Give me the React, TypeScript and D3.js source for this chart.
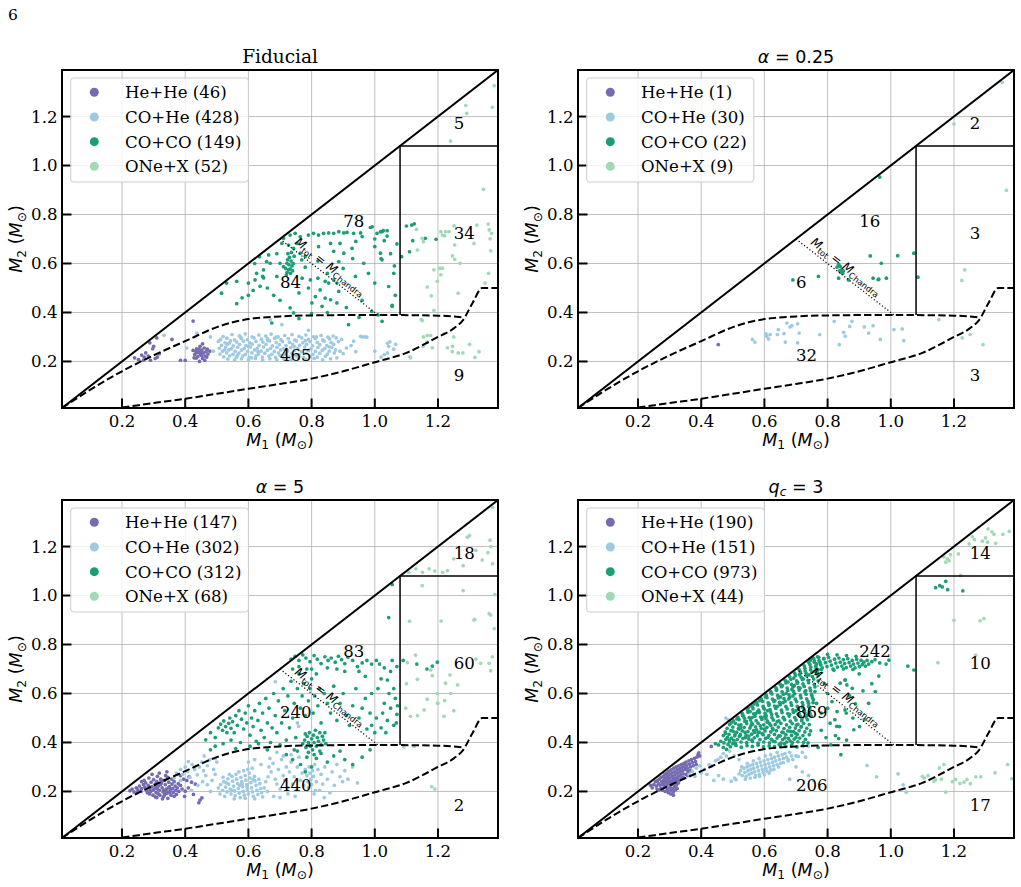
import { useEffect, useRef } from "react";
import * as d3 from "d3";

type Pt = [number, number];
type Part = { t: string; it?: boolean; sub?: boolean };

// masses in units of 1e-3 Msun, read as "M1 M2 M1 M2 ..."
function pts(s: string): Pt[] {
  const v = s.trim().split(/\s+/).map(Number);
  const out: Pt[] = [];
  for (let i = 0; i + 1 < v.length; i += 2) out.push([v[i] / 1000, v[i + 1] / 1000]);
  return out;
}

const groups = ["He+He", "CO+He", "CO+CO", "ONe+X"];
const groupColors = ["#756bb1", "#9ecae1", "#1b9e77", "#a1d9b4"];

const panelTitles: Part[][] = [
  [{ t: "Fiducial" }],
  [{ t: "α", it: true }, { t: " = 0.25" }],
  [{ t: "α", it: true }, { t: " = 5" }],
  [{ t: "q", it: true }, { t: "c", it: true, sub: true }, { t: " = 3" }],
];

const legendCounts = [
  [46, 428, 149, 52],
  [1, 30, 22, 9],
  [147, 302, 312, 68],
  [190, 151, 973, 44],
];

// top triangle, ONe box, right of M_tot line, left of it, between curves, below curves
const regionCounts = [
  [5, 34, 78, 84, 465, 9],
  [2, 3, 16, 6, 32, 3],
  [18, 60, 83, 240, 440, 2],
  [14, 10, 242, 869, 206, 17],
];

const massTicks = [0.2, 0.4, 0.6, 0.8, 1.0, 1.2];
const massDomain: Pt = [0.01, 1.39];

// region boundaries
const equalMass: Pt[] = [[0.01, 0.01], [1.39, 1.39]];
const oneBox: Pt[] = [[1.08, 0.39], [1.08, 1.08], [1.39, 1.08]];
const chandraLine: Pt[] = [[0.7, 0.7], [1.01, 0.39]];
const upperCurve: Pt[] = [
  [0.01, 0.01], [0.1, 0.085], [0.2, 0.16], [0.3, 0.225], [0.4, 0.283], [0.5, 0.34],
  [0.55, 0.36], [0.6, 0.373], [0.7, 0.384], [0.8, 0.388], [1.0, 0.39], [1.2, 0.387], [1.28, 0.38],
];
const lowerCurve: Pt[] = [
  [0.2, 0.012], [0.3, 0.03], [0.4, 0.048], [0.5, 0.068], [0.6, 0.089], [0.7, 0.108],
  [0.8, 0.13], [0.9, 0.16], [1.0, 0.197], [1.1, 0.235], [1.2, 0.3], [1.25, 0.335],
  [1.28, 0.37], [1.31, 0.44], [1.34, 0.5], [1.39, 0.5],
];

// ---- Fiducial ----
const fidHeHe = pts(`240 215 252 208 262 226 275 235 283 222 288 276 297 252 305 212 310 296 312 218 318 232 290 205 268 205
358 290 385 205 400 205 425 365 435 214 425 245 430 228 436 252 440 220 442 238 447 262 449 228 452 246 455 212 458 235
460 255 463 222 466 240 470 250 445 200 455 272 438 236 450 238 462 205 472 230 428 215 444 250 468 218 434 240 300 262
270 218 478 242 452 224`);
const fidCoHe = pts(`520 302 548 310 571 305 590 313 612 300 633 308 655 304 672 312 694 301 715 306 738 310 760 303 782 308 806 301 830 306 852 299 868 304
512 290 532 295 556 288 578 294 597 289 618 296 641 291 662 286 683 295 703 289 726 293 747 287 769 296 790 290 812 294 835 288 857 292 878 296
505 282 526 276 543 284 563 279 584 283 604 276 624 282 646 279 667 284 688 277 708 281 730 278 752 284 772 276 795 281 818 278 840 283 862 277 885 281
515 266 534 271 552 264 572 270 592 265 612 271 634 266 656 270 676 264 698 269 719 265 740 271 762 266 784 270 803 264 826 269 848 265 870 270
508 254 528 259 546 252 566 258 587 253 606 259 628 254 648 259 670 253 690 258 711 252 734 257 756 253 778 259 798 252 820 257 842 253 864 258
518 242 538 247 558 241 578 246 598 241 620 247 640 242 660 246 682 241 702 247 724 243 746 246 768 240 790 245 812 241 834 246 856 242 876 247
510 230 531 235 551 229 570 234 590 229 611 235 632 230 652 234 674 229 695 235 716 230 738 234 760 228 782 233 804 229 826 234 850 230 872 235
522 219 541 223 562 217 582 222 603 217 624 223 644 218 665 222 686 217 707 222 729 218 751 223 774 217 796 222 818 218 844 221
535 210 556 206 578 211 600 207 622 212 645 206 668 211 690 207 712 212 736 207 758 211 782 208 808 212 835 207 860 211
540 275 600 262 660 293 720 250 780 285 700 225 630 240 575 300 745 262 815 300 565 225 690 300 855 260 525 248 610 215
333 307 437 316 405 255 489 242 706 350 669 370 790 327 955 303 968 300 1040 274 1048 280 1030 228 1044 262 1066 270 1000 242
933 283 960 300 975 299 890 242 900 232 910 255 925 265 1040 235 1060 250 895 290 880 215 940 240 480 300 1020 218`);
const fidCoCo = pts(`711 703 732 716 748 723 764 709 790 716 806 723 822 716 838 723 854 725 870 723 886 730 902 725 912 727 933 723
955 725 992 750 1007 723 1023 730 1039 712 706 682 727 675 754 682 743 662
986 747 1018 730 1039 734 1000 669 1018 642 1023 615 1044 506 1023 364 1055 425 917 350 1027 734 1030 693 1020 620
1100 753 1117 757 1125 762 1120 693 1110 648 1085 628 1194 699 1160 703 1055 429
621 533 648 574 664 635 669 601 645 547 635 628 690 547 700 601 711 587 722 601 727 574 722 563 720 553 733 560
515 479 563 527 600 520 626 560 658 608 648 541 637 507 563 436 531 520
725 640 730 625 735 610 728 595 738 590 732 578 742 600 724 615 736 645 745 630 718 580 740 570
732 419 743 398 796 533 801 439 812 465 827 492 833 425 843 459 860 452 880 439 843 527 854 520 870 533 886 608
902 642 939 547 965 601 886 486 880 520 764 642 769 615 780 630 822 669 860 682 890 682 928 662 960 710
674 357 760 375 800 395 950 380 990 405 1010 390
580 460 600 470 615 490 660 500 680 470 700 450 760 480 790 500 820 540 850 560 900 580 930 620 980 560 1000 520
1060 560 1065 470 1050 640 960 450 910 420 850 400 770 540 690 640 620 600 780 585 820 610 870 650 940 690 1000 700
1070 680 1062 590`);
const fidONe = pts(`1378 1326 1372 1238 1288 1245 1291 1213 1240 1100 1344 903 1209 730 1224 730 1235 730 1214 716 1221 713
1132 739 1150 703 1154 689 1135 655 1251 754 1253 676 1246 631 1253 617 1270 601 1323 757 1314 682 1359 761 1362 737
1370 723 1365 701 1367 652 1214 581 1209 554 1198 527 1166 504 1179 468 1264 479 1187 409 1150 367 1154 300 1166 306
1177 306 1219 314 1182 256 1230 256 1246 262 1264 235 1279 235 1317 217 1111 219 1349 520 1113 215 1153 262 1147 371
1187 574 1205 580 1166 280 1245 240 1300 270 1330 240 1250 300 1360 560`);

// ---- alpha = 0.25 ----
const a25HeHe = pts(`454 269`);
const a25CoHe = pts(`562 290 570 279 607 303 613 292 618 310 605 313 641 310 644 330 666 279 662 314 671 357 681 341 687 346
705 354 710 316 705 276 775 310 821 364 837 269 851 319 856 303 870 343 877 364 916 341 930 316 944 346 967 290 1010 330
1036 333 1041 285`);
const a25CoCo = pts(`965 953 1073 642 1022 632 935 631 970 601 835 597 840 588 838 570 845 575 835 540 848 560 866 533 771 547
690 533 944 540 962 536 986 540 1086 544 842 565 830 585 850 570 960 534`);
const a25ONe = pts(`1353 1339 1200 1170 1366 899 1234 574 1225 531 1152 371 1226 296 1251 310 1292 269`);

// ---- alpha = 5 ----
const a5HeHe = pts(`225 203 232 210 238 198 245 215 250 207 255 222 248 195 262 212 268 228 260 200 272 218 278 205 275 235 283 225
288 212 280 195 292 238 295 220 290 200 298 185 300 248 305 230 302 210 308 195 312 262 310 240 315 222 318 205 320 185
322 250 325 235 327 215 330 198 332 180 335 245 337 228 340 210 342 192 345 172 338 265 348 238 350 220 352 202 355 185
358 230 360 212 362 196 365 240 368 222 370 205 372 188 375 215 378 232 380 200 385 225 390 210 318 275 295 270 285 255
270 245 305 178 328 170 345 258 262 240 342 280 358 250 312 210 332 205 322 228 298 205 287 190 350 195 365 180 340 200
315 190 327 245 307 220 347 215 335 188 310 175 355 210 395 250 405 245 412 260 420 238 426 188 443 154 453 174 447 165
400 201 385 265 410 215 432 230 398 180`);
const a5CoHe = pts(`505 215 512 228 518 205 522 240 528 218 532 198 535 252 538 230 542 210 545 190 548 262 550 242 553 222 556 202
558 182 561 270 563 250 566 232 568 212 571 193 574 175 576 258 579 240 581 220 584 200 587 185 590 265 592 246 595 228
597 208 600 190 603 275 605 255 608 236 610 215 613 198 616 180 619 262 621 243 624 225 627 205 630 188 633 250 636 232
639 212 642 195 598 290 612 295 585 285 570 280 540 270 520 258 510 190 525 180 555 170 590 172 620 170 645 178 650 215
655 240 660 200 662 260 548 205 572 225 596 218 615 248 580 232 530 235
365 255 372 275 385 290 392 270 400 300 408 282 415 258 422 310 430 290 438 268 445 300 452 320 458 285 465 265 470 305
478 330 485 245 490 290 495 270 470 228 455 240 440 225 420 205 480 200 500 320 495 335 410 322 460 345 385 245
665 300 672 280 678 315 685 250 690 230 695 290 700 210 705 330 710 265 715 245 720 300 725 190 730 280 735 320 740 230
745 260 750 205 755 300 760 340 765 245 770 275 775 225 680 180 700 175 725 215 748 180 710 345 690 360 668 335 735 350
780 290 785 265 788 240 792 300 795 275 798 250 800 228 803 285 806 262 810 310 815 240 820 290 825 205 830 270 835 230
842 300 850 250 858 195 865 280 872 225 880 310 890 260 898 240 905 285 915 250 930 300 945 235 808 190 840 175 790 215
812 205 759 466 755 480 685 648 600 320 620 330 640 310`);
const a5CoCo = pts(`735 740 748 752 760 735 772 758 782 745 795 730 808 755 818 740 830 722 842 750 852 735 862 745 875 728 885 752
895 738 905 722 915 748 930 735 945 710 960 725 975 735 990 720 1005 735 1015 720 1030 705 1050 690 1040 655 1020 660
970 670 950 690 905 690 880 700 850 705 800 700 760 710 740 700 1055 735 1070 710
1060 620 1045 600 1065 580 1030 560 1050 540 1070 515 1040 490 1060 470 1025 520 1005 500 990 470 975 455 1000 440
1020 460 985 520 960 540 970 580 990 600 1010 620 1035 440 1068 480 1072 550 1044 910 1055 1045
465 411 480 440 495 420 505 460 512 475 518 450 522 488 528 465 532 440 538 478 541 500 545 458 550 485 555 440 560 510
565 470 570 530 578 495 585 455 590 520 595 480 600 550 605 430 610 500 615 465 620 530 625 405 630 490 635 560 640 450
645 520 650 420 655 580 660 480 665 540 670 400 675 460 680 600 685 510 690 440 695 570 700 390 705 480 710 620 715 530
720 410 725 590 730 460 735 650 740 500 745 560 750 420 755 620 760 680 765 540 770 590 775 640 780 510 785 700 790 570
795 620 800 660 805 520 810 590 815 680 820 550 825 620 830 480 840 600 850 560 860 520 870 630 880 490 890 560 900 600
910 510 920 470 930 550 940 620 950 500 545 410 575 400 605 385 632 395 660 370
772 395 778 410 782 380 786 425 790 400 793 440 796 385 800 415 803 370 806 430 808 400 812 450 815 385 818 420 822 405
826 440 830 390 834 425 838 410 842 440 790 360 808 350 826 365 780 435 845 395
720 350 740 330 755 365 765 310 785 340 800 300 815 335 830 355 850 320 870 345 890 365 905 330 930 310 960 340 985 370
780 280 745 370 495 385 520 395 480 370 560 375 1133 720 1182 712 1198 728 1090 735 1165 700`);
const a5ONe = pts(`1373 1360 1365 1226 1367 1200 1373 1130 1320 1184 1300 1245 1280 1122 1230 1102 1215 1095 1172 1109 1151 1095
1130 1109 1108 1095 1293 1238 1340 1145 1250 1150 1190 1100 1358 1175 1380 1004 1367 920 1378 865 1316 903 1210 896
1110 895 1103 726 1135 658 1177 696 1182 673 1198 600 1221 571 1166 577 1156 533 1135 510 1113 507 1098 540 1238 676
1262 635 1335 723 1362 723 1367 693 1372 750 1092 382 1124 384 1180 220 1190 210 1362 926 1314 900 1129 757 1224 642
1198 561 1219 507 1280 1020 1150 1040 1200 560 1240 600 1320 740 1100 640 1250 530`);

// ---- q_c = 3 ----
const qcHeHe = pts(`250 228 255 240 258 222 262 245 265 232 268 250 270 225 273 258 275 240 278 230 280 262 282 248 285 270 287 255
289 240 291 275 293 262 295 250 297 282 299 268 301 255 303 240 305 288 307 275 309 262 311 250 313 295 315 280 317 268
319 255 321 300 323 288 325 275 327 262 329 305 331 292 333 280 335 268 337 310 339 298 341 285 343 272 345 315 347 302
349 290 352 320 354 308 356 295 358 282 361 325 363 312 366 300 369 330 372 318 375 305 378 335 382 322 386 340 390 350
384 310 272 212 278 205 283 218 286 200 290 225 293 210 296 195 298 232 301 218 304 205 306 228 309 212 312 198 314 235
316 220 318 206 320 240 322 226 324 212 312 185 304 190 300 242 290 238 280 238 294 202 308 240 326 248 328 235 316 245
284 228 240 225 245 215 260 210 266 205 392 358 395 345 432 384 336 255 343 258 352 270 357 265 365 285`);
const qcCoHe = pts(`520 272 525 285 530 265 535 295 538 278 542 262 545 300 548 285 551 270 554 305 557 290 560 275 563 310 566 295
569 280 572 265 575 315 578 300 581 285 584 270 587 320 590 305 593 290 596 278 599 325 602 310 605 295 608 283 611 330
614 315 617 300 620 288 623 335 626 320 629 305 632 340 636 325 640 310 644 345 648 330 652 315 656 350 660 335 665 355
670 340 675 325 680 360 686 345 540 250 555 255 570 258 585 262 600 268 615 275 630 290 645 300 660 318 528 300 546 315
565 325 583 335 603 345 620 350 640 360 690 330 700 345
362 269 372 282 385 295 395 305 410 290 425 310 432 303 445 325 453 330 462 340 470 355 480 345 490 365 495 242 505 255
510 248 470 250 455 265 440 245 418 270 485 493 478 500 707 343 720 360 739 384 675 330 700 300 720 280 740 265 755 245
680 250 925 306 955 260 1023 272 1039 227 1049 197 400 275 380 262 520 330 505 345 730 340`);
const qcCoCo = pts(`492 383 510 388 527 381 545 387 562 384 580 389 597 382 615 386 632 383 650 389 668 384 686 388 703 382 722 387
472 398 490 403 508 397 526 402 544 399 562 404 580 397 598 402 616 398 634 403 652 397 670 402 688 399 706 403 724 401 738 398
478 413 496 418 514 412 532 417 550 414 568 419 586 412 604 417 622 413 640 418 658 412 676 417 694 414 712 418 730 413
470 428 488 433 506 427 524 432 542 429 560 434 578 427 596 432 614 428 632 433 650 427 668 432 686 429 704 433 722 428 742 432
476 443 494 448 512 442 530 447 548 444 566 449 584 442 602 447 620 443 638 448 656 442 674 447 692 444 710 448 728 443 746 447
482 458 500 463 518 457 536 462 554 459 572 464 590 457 608 462 626 458 644 463 662 457 680 462 698 459 716 463 734 458
490 473 508 478 526 472 544 477 562 474 580 479 598 472 616 477 634 473 652 478 670 472 688 477 706 474 724 478 742 473
502 488 520 493 538 487 556 492 574 489 592 494 610 487 628 492 646 488 664 493 682 487 700 492 718 489 736 493
516 503 534 508 552 502 570 507 588 504 606 509 624 502 642 507 660 503 678 508 696 502 714 507 732 504 748 508
530 518 548 523 566 517 584 522 602 519 620 524 638 517 656 522 674 518 692 523 710 517 728 522 744 519
546 533 564 538 582 532 600 537 618 534 636 539 654 532 672 537 690 533 708 538 726 532 744 537
560 548 578 553 596 547 614 552 632 549 650 554 668 547 686 552 704 548 722 553 740 547
576 563 594 568 612 562 630 567 648 564 666 569 684 562 702 567 720 563 738 568 754 563
590 578 608 583 626 577 644 582 662 579 680 584 698 577 716 582 734 578 752 583
606 593 624 598 642 592 660 597 678 594 696 599 714 592 732 597 750 593
620 608 638 613 656 607 674 612 692 609 710 614 728 607 746 612 760 608
636 623 654 628 672 622 690 627 708 624 726 629 744 622 760 627
650 638 668 643 686 637 704 642 722 639 740 644 758 637
666 653 684 658 702 652 720 657 738 654 756 659 770 652
680 668 698 673 716 667 734 672 752 669 770 673
696 683 714 688 732 682 750 687 768 684
710 698 728 703 746 697 764 702 780 698
726 713 744 718 762 712 778 717
740 728 758 733 776 727
756 743 772 748 788 742
500 395 540 420 580 440 620 470 660 500 700 530 740 560 560 410 600 455 640 485 680 515 720 545 610 530 650 560 690 590
700 420 660 440 520 455 560 480 600 505
485 392 503 409 521 425 539 441 557 468 575 452 593 436 611 421 629 405 647 392 665 419 683 445 701 471 719 497 737 512
717 465 699 437 681 407 663 395 645 427 627 452 609 483 591 501 573 518 555 526 537 499 519 471 501 446 483 421 477 437
495 481 513 496 531 510 549 541 567 557 585 571 603 587 621 602 639 618 657 632 675 647 693 663 711 677 729 692 747 707
765 721 759 690 741 676 723 660 705 646 687 617 669 601 651 586 633 571 615 557 597 541 579 527 561 502 543 486 525 460
507 433 489 410 707 515 725 528 743 544 755 575 749 598 731 612 713 622 695 632 677 578 659 563 641 548 623 514 605 497
587 468 569 442 551 426
752 745 758 728 763 712 768 750 773 735 778 718 783 705 788 742 793 726 798 710 803 748 808 732 812 716 817 700 822 740
826 724 831 708 836 745 840 728 845 712 850 738 854 722 859 706 864 742 868 726 873 712 878 735 882 720 887 705 892 740
896 724 901 710 906 735 910 718 915 728 920 712 925 735 930 720 800 760 830 758 860 755 890 752 770 698 820 695 850 700
880 698 745 735 940 730 950 738 965 725 994 736 1054 712 1073 696 985 720
856 655 861 635 962 671 912 611 951 608 878 621 840 642 814 567 830 526 859 520 888 558 901 465 883 452 838 465 825 428
808 479 835 416 916 493 842 350 823 493 855 533 829 466 855 655 870 590 800 600 790 640 780 520 795 420 860 410 880 500
930 560 780 450 770 380 810 390 1142 1032 1163 1035 1174 1058 1180 1024 1228 1019 1155 1040 900 680 800 540 765 560
940 640 455 390 462 405 445 395 470 380 480 372`);
const qcONe = pts(`1308 1272 1375 1262 1327 1250 1306 1218 1332 1213 1258 1240 1248 1211 1265 1228 1189 1167 1179 1150 1174 1136
1168 1158 1221 1082 1200 899 1283 897 1295 906 1269 757 1149 726 1100 262 1106 255 1137 242 1142 248 1154 296 1168 310
1174 197 1205 249 1219 233 1232 238 1241 249 1269 260 1285 260 1330 276 1370 310 1383 252 1185 1142 1300 1235 1355 1250
1118 265 1195 240 1252 232 1160 250 1320 1260 1214 1170 1290 1222`);

const panelPoints: Pt[][][] = [
  [fidHeHe, fidCoHe, fidCoCo, fidONe],
  [a25HeHe, a25CoHe, a25CoCo, a25ONe],
  [a5HeHe, a5CoHe, a5CoCo, a5ONe],
  [qcHeHe, qcCoHe, qcCoCo, qcONe],
];

const W = 1021;
const H = 887;
const PW = 436;
const PH = 338;
const panelOrigins = [
  { left: 62, top: 70 },
  { left: 578, top: 70 },
  { left: 62, top: 500 },
  { left: 578, top: 500 },
];
// left edge / baseline of the count labels, in data units
const countSpots: Pt[] = [[1.25, 1.15], [1.25, 0.7], [0.9, 0.75], [0.7, 0.5], [0.7, 0.2], [1.25, 0.12]];

const SERIF = "'DejaVu Serif', serif";
const SANS = "'DejaVu Sans', sans-serif";
const FS = 16.6;

function richText(
  text: d3.Selection<SVGTextElement, unknown, null, undefined>,
  parts: Part[],
  size: number
) {
  let low = false;
  const shift = size * 0.22;
  parts.forEach((p) => {
    const ts = text.append("tspan").text(p.t);
    if (p.it) ts.attr("font-style", "italic");
    if (p.sub) {
      ts.attr("font-size", size * 0.7);
      if (!low) {
        ts.attr("dy", shift);
        low = true;
      }
    } else if (low) {
      ts.attr("dy", -shift);
      low = false;
    }
  });
}

function drawPanel(
  svg: d3.Selection<SVGSVGElement, unknown, null, undefined>,
  k: number
) {
  const { left, top } = panelOrigins[k];
  const g = svg.append("g").attr("transform", `translate(${left},${top})`);
  const x = d3.scaleLinear().domain(massDomain).range([0, PW]);
  const y = d3.scaleLinear().domain(massDomain).range([PH, 0]);

  const clipId = `panel-clip-${k}`;
  g.append("clipPath").attr("id", clipId).append("rect").attr("width", PW).attr("height", PH);

  // grid
  const grid = g.append("g").attr("stroke", "#b0b0b0").attr("stroke-width", 0.8);
  grid.selectAll("line.gx").data(massTicks).join("line").attr("class", "gx")
    .attr("x1", (d) => x(d)).attr("x2", (d) => x(d)).attr("y1", 0).attr("y2", PH);
  grid.selectAll("line.gy").data(massTicks).join("line").attr("class", "gy")
    .attr("y1", (d) => y(d)).attr("y2", (d) => y(d)).attr("x1", 0).attr("x2", PW);

  // binaries
  const dots = g.append("g").attr("clip-path", `url(#${clipId})`);
  panelPoints[k].forEach((set, gi) => {
    dots.append("g").attr("fill", groupColors[gi])
      .selectAll("circle").data(set).join("circle")
      .attr("cx", (d) => x(d[0])).attr("cy", (d) => y(d[1])).attr("r", 1.85);
  });

  // region boundaries
  const straight = d3.line<Pt>().x((d) => x(d[0])).y((d) => y(d[1]));
  const smooth = d3.line<Pt>().x((d) => x(d[0])).y((d) => y(d[1])).curve(d3.curveMonotoneX);
  const lines = g.append("g").attr("clip-path", `url(#${clipId})`).attr("fill", "none").attr("stroke", "#000");
  lines.append("path").attr("d", straight(equalMass)).attr("stroke-width", 2);
  lines.append("path").attr("d", straight(oneBox)).attr("stroke-width", 1.5);
  lines.append("path").attr("d", smooth(upperCurve)).attr("stroke-width", 2).attr("stroke-dasharray", "7.4,3.2");
  lines.append("path").attr("d", smooth(lowerCurve)).attr("stroke-width", 2).attr("stroke-dasharray", "7.4,3.2");
  lines.append("path").attr("d", straight(chandraLine)).attr("stroke-width", 1.2).attr("stroke-dasharray", "1.2,2.2");

  // M_tot = M_Chandra label along the dotted line
  const ang = (Math.atan2(y(chandraLine[1][1]) - y(chandraLine[0][1]), x(chandraLine[1][0]) - x(chandraLine[0][0])) * 180) / Math.PI;
  const lab = g.append("text")
    .attr("transform", `translate(${x(0.858)},${y(0.586)}) rotate(${ang})`)
    .attr("text-anchor", "middle").attr("dy", "0.3em")
    .attr("font-family", SANS).attr("font-size", 12);
  richText(lab, [{ t: "M", it: true }, { t: "tot", sub: true }, { t: " = " }, { t: "M", it: true }, { t: "Chandra", sub: true }], 12);

  // counts per region
  g.append("g").attr("font-family", SERIF).attr("font-size", FS)
    .selectAll("text").data(countSpots).join("text")
    .attr("x", (d) => x(d[0])).attr("y", (d) => y(d[1]))
    .text((_, i) => regionCounts[k][i]);

  // ticks, drawn inward
  const ticks = g.append("g").attr("stroke", "#000").attr("stroke-width", 2);
  ticks.selectAll("line.tx").data(massTicks).join("line").attr("class", "tx")
    .attr("x1", (d) => x(d)).attr("x2", (d) => x(d)).attr("y1", PH).attr("y2", PH - 9.5);
  ticks.selectAll("line.ty").data(massTicks).join("line").attr("class", "ty")
    .attr("y1", (d) => y(d)).attr("y2", (d) => y(d)).attr("x1", 0).attr("x2", 9.5);

  g.append("rect").attr("width", PW).attr("height", PH)
    .attr("fill", "none").attr("stroke", "#000").attr("stroke-width", 2);

  const fmt = d3.format(".1f");
  g.append("g").attr("font-family", SERIF).attr("font-size", FS).attr("text-anchor", "middle")
    .selectAll("text").data(massTicks).join("text")
    .attr("x", (d) => x(d)).attr("y", PH + 18.5).text((d) => fmt(d));
  g.append("g").attr("font-family", SERIF).attr("font-size", FS).attr("text-anchor", "end")
    .selectAll("text").data(massTicks).join("text")
    .attr("x", -4.5).attr("y", (d) => y(d)).attr("dy", "0.36em").text((d) => fmt(d));

  // axis labels
  const xl = g.append("text").attr("x", PW / 2).attr("y", PH + 37.5)
    .attr("text-anchor", "middle").attr("font-family", SANS).attr("font-size", 17.5);
  richText(xl, [{ t: "M", it: true }, { t: "1", sub: true }, { t: " (" }, { t: "M", it: true }, { t: "⊙", sub: true }, { t: ")" }], 17.5);
  const yl = g.append("text").attr("transform", `translate(-40,${PH / 2}) rotate(-90)`)
    .attr("text-anchor", "middle").attr("font-family", SANS).attr("font-size", 17.5);
  richText(yl, [{ t: "M", it: true }, { t: "2", sub: true }, { t: " (" }, { t: "M", it: true }, { t: "⊙", sub: true }, { t: ")" }], 17.5);

  // title
  const titleSize = k === 0 ? 18.5 : 17.5;
  const title = g.append("text").attr("x", PW / 2).attr("y", -7.5).attr("text-anchor", "middle")
    .attr("font-family", k === 0 ? SERIF : SANS).attr("font-size", titleSize);
  richText(title, panelTitles[k], titleSize);

  // legend
  const lg = g.append("g").attr("transform", "translate(8.7,8)");
  const frame = lg.append("rect").attr("rx", 3).attr("height", 104)
    .attr("fill", "#fff").attr("fill-opacity", 0.8).attr("stroke", "#cccccc").attr("stroke-width", 1);
  let widest = 0;
  groups.forEach((name, i) => {
    const cy = 14.3 + i * 24.67;
    lg.append("circle").attr("cx", 23.6).attr("cy", cy).attr("r", 4.5).attr("fill", groupColors[i]);
    const t = lg.append("text").attr("x", 54.3).attr("y", cy).attr("dy", "0.36em")
      .attr("font-family", SERIF).attr("font-size", FS)
      .text(`${name} (${legendCounts[k][i]})`);
    widest = Math.max(widest, (t.node() as SVGTextElement).getComputedTextLength());
  });
  frame.attr("width", 54.3 + widest + 7);
}

export default function App() {
  const svgRef = useRef<SVGSVGElement>(null);

  useEffect(() => {
    const svg = d3.select(svgRef.current as SVGSVGElement);
    svg.selectAll("*").remove();
    svg.append("rect").attr("width", W).attr("height", H).attr("fill", "#fff");
    svg.append("text").attr("x", 8).attr("y", 19.5)
      .attr("font-family", SERIF).attr("font-size", 15.5).text("6");
    panelOrigins.forEach((_, k) => drawPanel(svg, k));
  }, []);

  return (
    <svg
      ref={svgRef}
      width={W}
      height={H}
      style={{ position: "absolute", left: 0, top: 0, display: "block" }}
    />
  );
}
